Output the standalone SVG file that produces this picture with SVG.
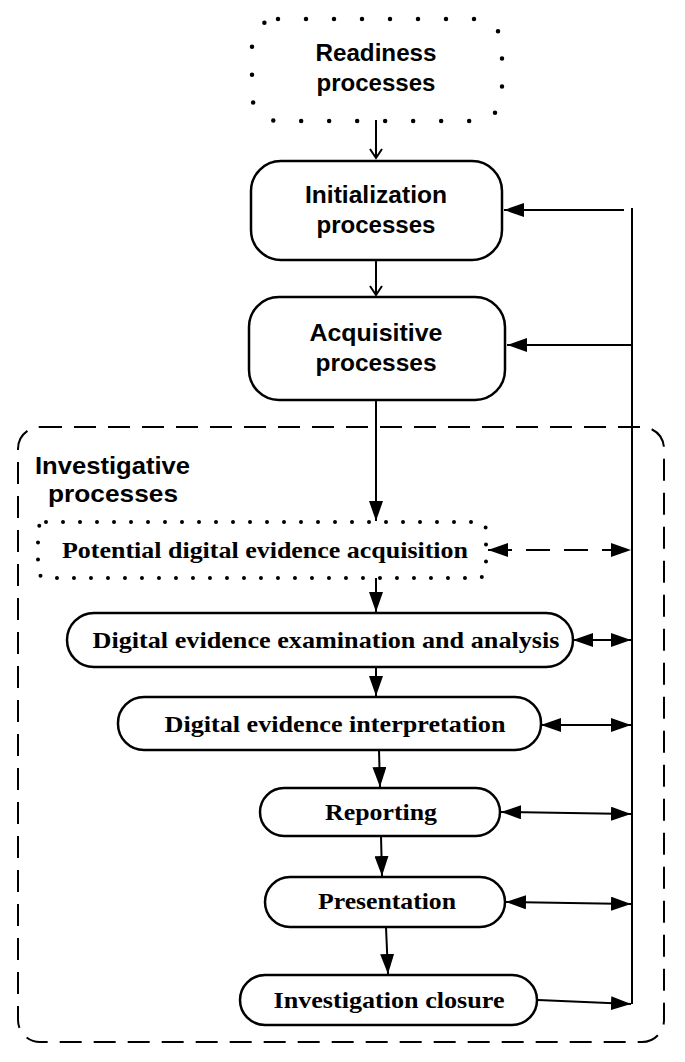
<svg xmlns="http://www.w3.org/2000/svg" width="685" height="1062" viewBox="0 0 685 1062">
<style>
.box{fill:#fff;stroke:#000;stroke-width:2.5}
.dot{fill:none;stroke:#000;stroke-width:4.5;stroke-dasharray:0 28;stroke-linecap:round}
.dot2{fill:none;stroke:#000;stroke-width:4;stroke-dasharray:0 17;stroke-linecap:round}
.ss{font-family:"Liberation Sans",Arial,sans-serif;font-weight:bold;font-size:23px;text-anchor:middle}
.sf{font-family:"Liberation Serif","Times New Roman",serif;font-weight:bold;font-size:24px;text-anchor:middle}
.ln{fill:none;stroke:#000;stroke-width:2}
</style>
<defs>
<marker id="open" markerWidth="20" markerHeight="14" refX="10" refY="7" orient="auto" markerUnits="userSpaceOnUse"><path d="M1,1 L10,7 L1,13" fill="none" stroke="#000" stroke-width="2"/></marker>
<marker id="tri" markerWidth="20" markerHeight="14" refX="20" refY="7" orient="auto-start-reverse" markerUnits="userSpaceOnUse"><path d="M0,0 L20,7 L0,14Z" fill="#000"/></marker>
</defs>
<g id="container"><rect x="18" y="427" width="646" height="615" rx="22" fill="none" stroke="#000" stroke-width="2" stroke-dasharray="22 12"/>
<text x="35" y="474" font-family="Liberation Sans,Arial,sans-serif" font-weight="bold" font-size="24" textLength="155" lengthAdjust="spacingAndGlyphs">Investigative</text>
<text x="48" y="502" font-family="Liberation Sans,Arial,sans-serif" font-weight="bold" font-size="24" textLength="130" lengthAdjust="spacingAndGlyphs">processes</text></g>
<g id="connectors">
<line class="ln" x1="376" y1="120" x2="376" y2="158" marker-end="url(#open)"/>
<line class="ln" x1="376" y1="260" x2="376" y2="295" marker-end="url(#open)"/>
<line class="ln" x1="376" y1="400" x2="376" y2="521" marker-end="url(#tri)"/>
<line class="ln" x1="376" y1="578" x2="376" y2="612" marker-end="url(#tri)"/>
<line class="ln" x1="376" y1="667" x2="376" y2="696" marker-end="url(#tri)"/>
<line class="ln" x1="379" y1="750" x2="380" y2="787" marker-end="url(#tri)"/>
<line class="ln" x1="381" y1="836" x2="382" y2="876" marker-end="url(#tri)"/>
<line class="ln" x1="386" y1="927" x2="388" y2="974" marker-end="url(#tri)"/>
<line class="ln" x1="632" y1="208" x2="632" y2="1004"/>
<line class="ln" x1="624" y1="210" x2="504" y2="210" marker-end="url(#tri)"/>
<line class="ln" x1="632" y1="345" x2="507" y2="345" marker-end="url(#tri)"/>
<line class="ln" x1="488" y1="550" x2="631" y2="550" stroke-dasharray="24 14" marker-start="url(#tri)" marker-end="url(#tri)"/>
<line class="ln" x1="573" y1="640" x2="631" y2="640" marker-start="url(#tri)" marker-end="url(#tri)"/>
<line class="ln" x1="541" y1="725" x2="631" y2="725" marker-start="url(#tri)" marker-end="url(#tri)"/>
<line class="ln" x1="501" y1="812" x2="631" y2="814" marker-start="url(#tri)" marker-end="url(#tri)"/>
<line class="ln" x1="506" y1="902" x2="631" y2="904" marker-start="url(#tri)" marker-end="url(#tri)"/>
<line class="ln" x1="538" y1="1000" x2="631" y2="1004" marker-end="url(#tri)"/>
</g>
<g id="readiness"><rect class="dot" x="252" y="19" width="250" height="102" rx="26"/>
<text class="ss" x="376" y="61" textLength="121" lengthAdjust="spacingAndGlyphs">Readiness</text><text class="ss" x="376" y="91" textLength="119" lengthAdjust="spacingAndGlyphs">processes</text></g>
<g id="init"><rect class="box" x="251" y="161" width="251" height="99" rx="30"/>
<text class="ss" x="376" y="203" textLength="142" lengthAdjust="spacingAndGlyphs">Initialization</text><text class="ss" x="376" y="233" textLength="119" lengthAdjust="spacingAndGlyphs">processes</text></g>
<g id="acq"><rect class="box" x="249" y="297" width="256" height="103" rx="30"/>
<text class="ss" x="376" y="341" textLength="133" lengthAdjust="spacingAndGlyphs">Acquisitive</text><text class="ss" x="376" y="371" textLength="121" lengthAdjust="spacingAndGlyphs">processes</text></g>
<g id="potential"><rect class="dot2" x="38" y="522" width="448" height="56" rx="8"/>
<text class="sf" x="265" y="558" textLength="406" lengthAdjust="spacingAndGlyphs">Potential digital evidence acquisition</text></g>
<g id="exam"><rect class="box" x="67" y="613" width="506" height="54" rx="27"/>
<text class="sf" x="326" y="648" textLength="467" lengthAdjust="spacingAndGlyphs">Digital evidence examination and analysis</text></g>
<g id="interp"><rect class="box" x="118" y="697" width="423" height="53" rx="26"/>
<text class="sf" x="335" y="732" textLength="341" lengthAdjust="spacingAndGlyphs">Digital evidence interpretation</text></g>
<g id="reporting"><rect class="box" x="260" y="788" width="240" height="48" rx="24"/>
<text class="sf" x="381" y="820" textLength="112" lengthAdjust="spacingAndGlyphs">Reporting</text></g>
<g id="presentation"><rect class="box" x="265" y="877" width="240" height="50" rx="25"/>
<text class="sf" x="387" y="909" textLength="138" lengthAdjust="spacingAndGlyphs">Presentation</text></g>
<g id="closure"><rect class="box" x="240" y="975" width="297" height="50" rx="25"/>
<text class="sf" x="389" y="1008" textLength="231" lengthAdjust="spacingAndGlyphs">Investigation closure</text></g>
</svg>
